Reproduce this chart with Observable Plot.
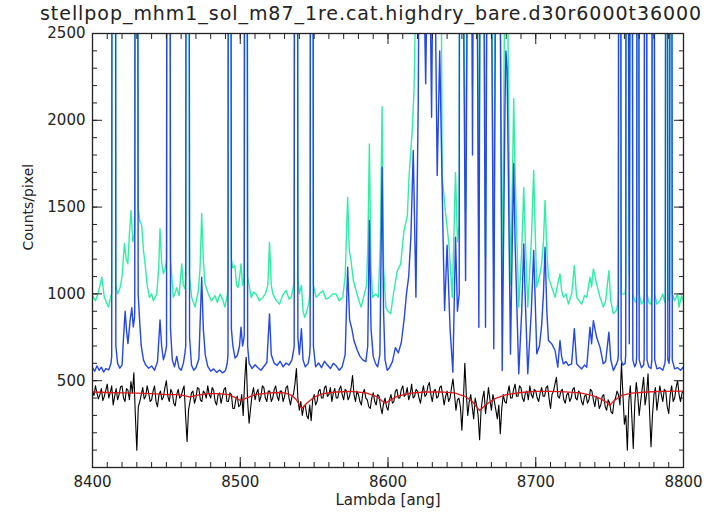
<!DOCTYPE html>
<html>
<head>
<meta charset="utf-8">
<script src="https://cdn.jsdelivr.net/npm/d3@7"></script>
<script src="https://cdn.jsdelivr.net/npm/@observablehq/plot@0.6"></script>
<style>
  html, body { margin: 0; padding: 0; background: #fff; }
  body { width: 720px; height: 515px; overflow: hidden; }
  #title { height: 30px; box-sizing: border-box; padding-left: 40px; padding-top: 3px;
           font-family: "DejaVu Sans", sans-serif; font-size: 19px; line-height: 20px;
           letter-spacing: 0.95px; color: #222; white-space: nowrap; }
  #chart svg { display: block; overflow: visible; }
</style>
</head>
<body>
<div id="title"></div>
<div id="chart"></div>
<script>
// ---------- data ----------
const titleText = "stellpop_mhm1_sol_m87_1re.cat.highdry_bare.d30r6000t36000";
const xLabel = "Lambda [ang]";
const yLabel = "Counts/pixel";
const xTickValues = [8400, 8500, 8600, 8700, 8800];
const yTickValues = [500, 1000, 1500, 2000, 2500];

// blue spectrum [lambda, counts]
const blueSpec = [
[8400,575],[8401.5,555],[8403,585],[8404.5,560],[8406,578],[8407.5,550],[8409,570],[8411,562],[8412.5,600],
[8413,640],[8413.3,4500],[8415.5,4500],[8415.8,700],
[8417,600],[8418.5,572],[8420,590],[8421,750],[8422.1,900],[8423,790],[8424,714],[8425.5,850],[8426.6,920],[8427.6,810],[8428.4,860],
[8428.6,900],[8428.9,4500],[8430.5,4500],[8430.9,1000],
[8432,830],[8433,700],[8434.5,620],[8436,590],[8438,572],[8440,585],[8442,560],[8444,610],[8445.7,850],[8446.8,700],[8448,620],[8449.3,660],
[8450.1,700],[8450.4,4500],[8452.4,4500],[8452.8,800],
[8454,620],[8455.5,580],[8457,640],[8458.5,575],[8460,560],[8461.5,600],[8462.6,660],
[8463.1,700],[8463.4,4500],[8465.3,4500],[8465.7,750],
[8467,590],[8468.5,560],[8470,575],[8472,625],[8473.9,1096],[8475,800],[8476.3,650],[8478,582],[8480,555],[8482,568],[8484,548],[8486,562],[8488,545],[8490,558],[8491.2,600],
[8491.7,650],[8492,4500],[8493.6,4500],[8494,800],
[8495,700],[8496.5,630],[8498,645],[8499.5,700],[8500.5,808],[8501.6,700],[8502.4,740],
[8502.7,760],[8503,4500],[8504.6,4500],[8505,700],
[8506,600],[8508,570],[8510,592],[8512,575],[8514,560],[8516,582],[8518,605],[8519.8,885],[8521,650],[8523,600],[8525,588],[8527,612],[8529,580],[8531,602],[8533,590],[8535,620],[8536.2,680],
[8536.5,700],[8536.8,4500],[8538.7,4500],[8539,750],
[8540,650],[8541.4,800],[8542.5,620],[8544,580],[8546,600],[8547,650],
[8547.3,700],[8547.6,4500],[8549.2,4500],[8549.5,700],
[8551,580],[8553,602],[8555,575],[8557,612],[8559,590],[8561,570],[8563,600],[8565,585],[8567,560],[8569,580],[8571,650],[8572.7,1154],[8574,850],[8575.5,800],[8577,730],[8579,680],[8581,640],[8583,620],[8585,610],[8586.3,700],[8587.4,1423],[8588.5,800],[8590,640],[8591.5,600],[8593,580],[8594.5,650],[8596,1730],[8597,900],[8598,620],[8599.5,560],[8601,575],
[8603,610],[8605,690],[8607,660],[8609,720],[8611,860],[8612.5,1000],[8614,1100],[8615.5,1330],[8617.1,1826],[8618.9,981],[8620.5,2133],[8621.3,3500],[8623,3500],[8625.5,2210],[8627.5,3500],[8629.5,2018],[8631,3500],[8633.3,1682],[8635,2400],[8637.4,1269],[8638.3,904],[8640,1280],[8642,800],[8643.9,549],[8645.7,1327],[8647,900],
[8648.2,1000],[8648.5,4500],[8649.5,4500],[8652.5,1077],[8654.8,4500],[8656,4500],[8657.2,1800],[8658.2,4500],[8659.4,4500],[8661.5,808],[8662.9,4500],[8664,4500],[8666,808],[8667.7,4500],[8668.8,4500],[8671.6,684],[8673.7,4500],[8674.8,4500],[8677.3,559],[8679.2,2100],[8679.8,2400],[8680.6,2300],[8682.9,653],[8684.3,1400],[8685.1,1751],[8686,1300],[8688.5,540],[8690.5,900],[8691.9,1288],[8692.8,1000],[8694.6,540],[8697,900],[8698.6,1250],[8699.5,1000],
[8700.7,655],[8702.5,700],[8704,820],[8705.2,1000],[8706.3,1269],[8707.5,900],[8708.6,731],[8710.8,713],[8713.1,674],[8714.9,578],[8716.4,731],[8717.5,640],[8718.7,597],[8720.5,610],[8722.1,588],[8724.3,597],[8726.1,800],[8727.7,597],[8729.5,580],[8731.1,568],[8733,590],[8734.5,578],[8736.7,808],[8737.8,713],[8739,846],[8741.2,750],[8743.5,692],[8745.7,597],[8747.3,610],[8749.5,780],[8750.8,620],[8752.5,559],[8754.7,597],[8755.6,620],
[8755.9,650],[8756.2,4500],[8757.4,4500],[8757.8,620],[8759,590],[8760.5,600],
[8760.9,650],[8761.2,4500],[8762.2,4500],[8763.3,713],[8764.2,4500],[8765.2,4500],[8765.7,620],[8767,580],[8768,600],
[8768.3,640],[8768.6,4500],[8769.6,4500],[8770,620],[8771.5,575],[8773,590],
[8773.4,630],[8773.7,4500],[8774.9,4500],[8775.3,620],[8776.5,580],[8778,570],
[8778.6,620],[8778.9,4500],[8780.1,4500],[8780.5,620],[8782,568],[8784,575],[8786,560],[8787.4,600],
[8787.7,630],[8788,4500],[8789,4500],[8789.4,620],[8790.2,600],
[8790.6,640],[8790.9,4500],[8792,4500],[8792.4,620],[8794,568],[8796,575],[8798,560],[8800,580]
];

// green spectrum [lambda, counts]
const greenSpec = [
[8400,990],[8402,960],[8404,1010],[8406.3,1096],[8408,980],[8410.8,924],[8412.5,990],
[8413,1000],[8413.3,4500],[8415.5,4500],[8415.8,1050],
[8417,1000],[8418.7,1037],[8420,1100],[8421.6,1290],[8422.8,1200],[8423.9,1173],[8425,1350],[8426.1,1480],[8427.3,1300],[8428.4,1350],
[8428.6,1400],[8428.9,4500],[8430.5,4500],[8430.9,1500],
[8432,1420],[8433.3,1394],[8434.5,1250],[8435.6,1173],[8437,1050],[8438.5,980],[8440,1000],[8441.2,961],[8443.5,999],[8444.8,1150],[8445.7,1375],[8446.8,1180],[8448,1116],[8449.3,1150],
[8450.1,1200],[8450.4,4500],[8452.4,4500],[8452.8,1200],
[8454.7,980],[8456,1010],[8457,1035],[8458.6,990],[8460.4,1173],[8461.5,1050],[8462.6,1030],
[8463.1,1100],[8463.4,4500],[8465.3,4500],[8465.7,1100],
[8467.1,980],[8469.4,924],[8471.6,1018],[8472.8,1150],[8473.9,1463],[8475,1200],[8476.1,1058],[8478.4,999],[8480.5,960],[8482.9,990],[8484.5,950],[8486.3,999],[8488,970],[8489.6,924],[8491.2,990],
[8491.7,1050],[8492,4500],[8493.6,4500],[8494,1200],
[8495,1150],[8496.4,1163],[8497.5,1050],[8498.6,1037],[8499.6,1100],[8500.5,1173],[8501.6,1050],[8502.4,1080],
[8502.7,1100],[8503,4500],[8504.6,4500],[8505,1100],
[8507.4,980],[8509,1010],[8510.8,999],[8513,960],[8515.3,980],[8517,1000],[8518.7,1050],[8519.8,1298],[8521,1050],[8522.1,999],[8524.5,960],[8526.6,941],[8528.5,990],[8531.1,1020],[8533,970],[8534.5,980],[8536.2,1050],
[8536.5,1100],[8536.8,4500],[8538.7,4500],[8539,1100],
[8540,1000],[8541.4,1050],[8542.5,900],[8543.6,865],[8545,900],[8546.5,950],[8547,1000],
[8547.3,1050],[8547.6,4500],[8549.2,4500],[8549.5,1050],
[8551.4,980],[8553.5,1000],[8556,1018],[8558,970],[8560.4,980],[8562.5,1000],[8564.9,999],[8567,960],[8569.4,980],[8571,1100],[8572.7,1557],[8573.8,1250],[8575,1190],[8576.5,1080],[8578.4,1018],[8580,970],[8581.8,924],[8584,999],[8585.5,1050],[8586.4,1300],[8587.4,1864],[8588.5,1150],[8589.6,980],[8591.9,999],[8593.5,980],[8594.8,1300],[8596,2079],[8597,1150],[8598.6,924],[8600,900],[8601.8,886],
[8604,1018],[8606.3,1133],[8608.6,1173],[8610.8,1365],[8613.1,1450],[8614.2,1672],[8616.4,1942],[8617.6,2171],[8619,2800],[8636,2800],[8636.7,1672],[8639,1463],[8641.2,1288],[8643.5,980],[8645.7,1700],[8647,1300],
[8648.2,1400],[8648.5,4500],[8649.5,4500],[8652.5,1477],[8654.8,4500],[8656,4500],[8657.2,2200],[8658.2,4500],[8659.4,4500],[8661.5,1208],[8662.9,4500],[8664,4500],[8666,1208],[8667.7,4500],[8668.8,4500],[8671.6,1084],[8673.7,4500],[8674.8,4500],[8677.3,959],[8679.2,3000],[8680.6,3000],[8682.9,1053],[8684.3,1700],[8685.1,2125],[8686,1700],[8688.5,924],[8690.5,1250],[8691.9,1613],[8692.8,1350],[8694.6,924],[8697,1300],[8698.6,1711],[8699.5,1400],
[8700.7,1039],[8702.5,1100],[8704,1173],[8705.2,1300],[8706.3,1538],[8707.5,1250],[8708.6,1096],[8710.8,1039],[8713.1,980],[8714.9,1058],[8716.4,1115],[8717.5,1020],[8718.7,980],[8720.5,1000],[8722.1,941],[8724.3,999],[8726.1,1163],[8727.7,980],[8729.5,960],[8731.1,941],[8733,990],[8734.5,980],[8736.7,1096],[8737.8,1040],[8739,1144],[8741.2,1058],[8743.5,980],[8745.7,924],[8747.3,960],[8749.5,1134],[8750.8,960],[8752.5,886],[8754.7,906],[8755.6,950],
[8755.9,1000],[8756.2,4500],[8757.4,4500],[8757.8,1000],[8759,1000],[8760.5,1000],
[8760.9,1050],[8761.2,4500],[8762.2,4500],[8763.3,1110],[8764.2,4500],[8765.2,4500],[8765.7,1000],[8767,960],[8768,950],
[8768.3,1000],[8768.6,4500],[8769.6,4500],[8770,1000],[8771.5,941],[8773,960],
[8773.4,1000],[8773.7,4500],[8774.9,4500],[8775.3,1000],[8776.5,950],[8778,940],
[8778.6,1000],[8778.9,4500],[8780.1,4500],[8780.5,1000],[8782,941],[8784,960],[8786,999],[8787.4,950],
[8787.7,1000],[8788,4500],[8789,4500],[8789.4,1000],[8790.2,960],
[8790.6,1000],[8790.9,4500],[8792,4500],[8792.4,1000],[8794,960],[8796,1000],[8797,924],[8798.6,990],[8800,960]
];

// black (residual) spectrum, one value per 1 A starting at 8400
const blackStart = 8400, blackStep = 1;
const blackCounts = [
440,415,470,430,395,420,455,385,410,445,480,400,430,470,360,410,455,390,420,465,
470,400,380,455,445,390,495,430,545,300,100,350,380,420,460,395,410,470,430,380,
390,440,470,380,350,420,440,390,405,460,500,410,380,450,430,370,355,420,450,400,
410,445,470,300,150,330,380,430,440,370,400,460,455,390,380,440,430,400,470,420,
400,460,445,380,360,420,430,370,410,450,460,380,380,430,420,340,340,390,410,350,
360,420,300,500,635,380,255,340,420,460,390,430,450,380,410,470,460,400,380,440,
440,380,400,450,470,410,385,440,440,380,410,460,470,400,360,410,420,480,570,400,
330,380,300,350,360,300,280,360,270,390,420,360,380,440,450,400,400,460,470,410,
420,460,380,430,455,400,400,450,470,420,390,450,440,390,410,460,530,420,380,440,
420,380,360,430,450,400,390,350,340,400,430,380,360,420,410,350,310,370,400,350,
330,390,420,370,380,440,450,400,400,450,470,410,420,460,390,420,480,400,410,450,
440,400,370,430,470,410,420,470,490,420,380,440,450,400,410,460,470,420,360,410,
440,380,400,460,510,420,330,390,400,350,215,380,600,420,300,380,420,350,280,400,
360,300,160,330,400,440,310,380,460,390,330,420,380,330,280,360,195,340,420,380,
370,430,470,400,400,450,480,410,410,470,460,400,380,430,440,390,470,420,400,450,
440,400,380,430,460,410,410,460,470,400,340,420,440,480,520,410,400,440,450,390,
370,420,430,380,400,450,460,400,390,440,430,380,360,410,420,370,390,450,440,390,
350,410,400,340,360,410,420,350,330,390,370,320,310,380,400,440,420,360,600,420,
250,300,100,380,470,300,110,360,490,420,300,380,450,520,360,420,540,330,120,300,
420,460,330,400,470,420,380,450,440,350,310,420,470,380,400,460,500,420,380,430,
440
];
const blackSpec = blackCounts.map((v, i) => [blackStart + i * blackStep, v]);

// red (smooth model) curve [lambda, counts]
const redSpec = [
[8400,435],[8410,432],[8420,430],[8430,428],[8440,425],[8450,420],[8458,420],[8463,412],[8466,405],[8470,415],
[8478,425],[8485,425],[8492,420],[8496,405],[8500,386],[8504,400],[8510,420],[8518,428],[8525,432],[8530,430],
[8535,415],[8538,390],[8541.7,340],[8545,370],[8550,405],[8556,425],[8565,435],[8575,438],[8585,430],[8592,410],
[8595,390],[8598,370],[8601,385],[8606,410],[8615,428],[8625,435],[8635,436],[8645,430],[8652,410],[8657,380],
[8662,328],[8666,360],[8672,395],[8680,420],[8690,432],[8700,438],[8710,438],[8720,436],[8730,430],[8738,415],
[8744,395],[8748,375],[8750,357],[8753,385],[8758,415],[8765,428],[8775,435],[8785,438],[8800,440]
];

// ---------- chart ----------
document.getElementById("title").textContent = titleText;
const xMinor = d3.range(8400, 8801, 10);
const yMinor = d3.range(0, 2501, 100);
const blank = () => "";

const chart = Plot.plot({
  width: 720,
  height: 485,
  marginLeft: 92,
  marginRight: 37,
  marginTop: 3,
  marginBottom: 48,
  x: { domain: [8400, 8800] },
  y: { domain: [0, 2500] },
  style: { fontFamily: "DejaVu Sans, sans-serif", fontSize: "15px", color: "#222", background: "#fff", overflow: "visible" },
  marks: [
    Plot.line(greenSpec, { stroke: "#2cf0a2", strokeWidth: 1.4, clip: true }),
    Plot.line(blueSpec, { stroke: "#2447e6", strokeWidth: 1.4, clip: true }),
    Plot.line(blackSpec, { stroke: "#000", strokeWidth: 1.1, clip: true }),
    Plot.line(redSpec, { stroke: "#e01818", strokeWidth: 1.3, clip: true }),
    // inward ticks on all four sides
    Plot.axisX(xMinor, { anchor: "bottom", tickSize: -5, tickFormat: blank, label: null, stroke: "#222" }),
    Plot.axisX(xTickValues, { anchor: "bottom", tickSize: -10, tickFormat: blank, label: null, stroke: "#222" }),
    Plot.axisX(xMinor, { anchor: "top", tickSize: -5, tickFormat: blank, label: null, stroke: "#222" }),
    Plot.axisX(xTickValues, { anchor: "top", tickSize: -10, tickFormat: blank, label: null, stroke: "#222" }),
    Plot.axisY(yMinor, { anchor: "left", tickSize: -5, tickFormat: blank, label: null, stroke: "#222" }),
    Plot.axisY(yTickValues, { anchor: "left", tickSize: -10, tickFormat: blank, label: null, stroke: "#222" }),
    Plot.axisY(yMinor, { anchor: "right", tickSize: -5, tickFormat: blank, label: null, stroke: "#222" }),
    Plot.axisY(yTickValues, { anchor: "right", tickSize: -10, tickFormat: blank, label: null, stroke: "#222" }),
    // tick labels
    Plot.axisX(xTickValues, { anchor: "bottom", tickSize: 0, tickPadding: 9, tickFormat: d3.format("d"), label: null, fill: "#222" }),
    Plot.axisY(yTickValues, { anchor: "left", tickSize: 0, tickPadding: 7, tickFormat: d3.format("d"), label: null, fill: "#222" }),
    // axis titles
    Plot.text([xLabel], { frameAnchor: "bottom", dy: 37, fontSize: 15, fill: "#222" }),
    Plot.text([yLabel], { frameAnchor: "left", dx: -64, rotate: -90, fontSize: 14, fill: "#222" }),
    Plot.frame({ stroke: "#222", strokeWidth: 1.3 })
  ]
});
document.getElementById("chart").appendChild(chart);
</script>
</body>
</html>
